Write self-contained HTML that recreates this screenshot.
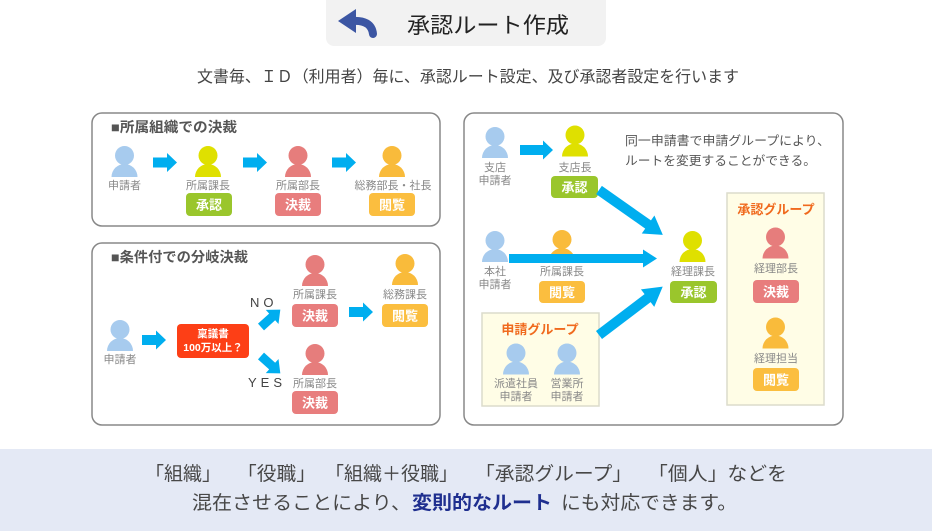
<!DOCTYPE html>
<html><head><meta charset="utf-8">
<style>
html,body{margin:0;padding:0;background:#fff;}
svg{display:block;}
text{font-family:"Liberation Sans","Noto Sans CJK JP",sans-serif;}
.lb{font-size:11px;fill:#888;text-anchor:middle;}
.bd{font-size:13px;fill:#fff;font-weight:bold;text-anchor:middle;}
.ttl{font-size:14px;fill:#555;font-weight:bold;}
.gt{font-size:13px;fill:#f06a1e;font-weight:bold;text-anchor:middle;}
</style></head>
<body>
<svg width="932" height="531" viewBox="0 0 932 531" xmlns="http://www.w3.org/2000/svg">
<defs>
<symbol id="p" viewBox="0 0 26 31">
<circle cx="13" cy="9.5" r="9.5"/>
<path d="M0,31 A13,13 0 0 1 26,31 Z"/>
</symbol>
</defs>

<!-- header -->
<rect x="326" y="-10" width="280" height="56" rx="8" fill="#f2f2f2"/>
<polygon points="338,21 356,9 356,33" fill="#3c56a3"/>
<path d="M352,21 C364,20 372,24 373,34" stroke="#3c56a3" stroke-width="8" stroke-linecap="round" fill="none"/>
<text x="407" y="33" font-size="22" fill="#222" textLength="162" lengthAdjust="spacingAndGlyphs">承認ルート作成</text>

<text x="197" y="82" font-size="16" fill="#444" textLength="542" lengthAdjust="spacingAndGlyphs">文書毎、ＩＤ（利用者）毎に、承認ルート設定、及び承認者設定を行います</text>

<!-- box 1 -->
<rect x="92" y="113" width="348" height="113" rx="10" fill="#fff" stroke="#888" stroke-width="1.5"/>
<text class="ttl" x="111" y="132" textLength="126" lengthAdjust="spacingAndGlyphs">■所属組織での決裁</text>
<use href="#p" x="111.5" y="146" width="26" height="31" fill="#a7cbee"/>
<use href="#p" x="195" y="146" width="26" height="31" fill="#dfe000"/>
<use href="#p" x="285" y="146" width="26" height="31" fill="#e67d7c"/>
<use href="#p" x="379" y="146" width="26" height="31" fill="#f9bb3b"/>
<text class="lb" x="124.5" y="189">申請者</text>
<text class="lb" x="208" y="189">所属課長</text>
<text class="lb" x="298" y="189">所属部長</text>
<text class="lb" x="393" y="189">総務部長・社長</text>
<g fill="#00aeef">
<polygon points="153,157.5 167,157.5 167,153 177,162.5 167,172 167,167.5 153,167.5"/>
<polygon points="243,157.5 257,157.5 257,153 267,162.5 257,172 257,167.5 243,167.5"/>
<polygon points="332,157.5 346,157.5 346,153 356,162.5 346,172 346,167.5 332,167.5"/>
</g>
<rect x="186" y="193" width="46" height="23" rx="4" fill="#9ac62c"/>
<text class="bd" x="209" y="209.5">承認</text>
<rect x="275" y="193" width="46" height="23" rx="4" fill="#e87d7d"/>
<text class="bd" x="298" y="209.5">決裁</text>
<rect x="369" y="193" width="46" height="23" rx="4" fill="#fbbe3f"/>
<text class="bd" x="392" y="209.5">閲覧</text>

<!-- box 2 -->
<rect x="92" y="243" width="348" height="182" rx="10" fill="#fff" stroke="#888" stroke-width="1.5"/>
<text class="ttl" x="111" y="262" textLength="137" lengthAdjust="spacingAndGlyphs">■条件付での分岐決裁</text>
<use href="#p" x="107" y="320" width="26" height="31" fill="#a7cbee"/>
<text class="lb" x="120" y="363">申請者</text>
<polygon points="142,335 156,335 156,330.5 166,340 156,349.5 156,345 142,345" fill="#00aeef"/>
<rect x="177" y="324" width="72" height="34" rx="4" fill="#fd3f16"/>
<text x="213" y="337" font-size="10.5" font-weight="bold" fill="#fff" text-anchor="middle">稟議書</text>
<text x="213" y="351" font-size="10.5" font-weight="bold" fill="#fff" text-anchor="middle">100万以上？</text>
<text x="250" y="307" font-size="13" fill="#444" letter-spacing="4">NO</text>
<text x="248" y="387" font-size="13" fill="#444" letter-spacing="4">YES</text>
<g fill="#00aeef">
<g transform="translate(261,327) rotate(-42)"><polygon points="0,-4.5 15,-4.5 15,-9.5 26,0 15,9.5 15,4.5 0,4.5"/></g>
<g transform="translate(261,356) rotate(42)"><polygon points="0,-4.5 15,-4.5 15,-9.5 26,0 15,9.5 15,4.5 0,4.5"/></g>
<polygon points="349,307 363,307 363,302.5 373,312 363,321.5 363,317 349,317"/>
</g>
<use href="#p" x="302" y="255" width="26" height="31" fill="#e67d7c"/>
<text class="lb" x="315" y="298">所属課長</text>
<rect x="292" y="304" width="46" height="23" rx="4" fill="#e87d7d"/>
<text class="bd" x="315" y="320.5">決裁</text>
<use href="#p" x="392" y="254" width="26" height="31" fill="#f9bb3b"/>
<text class="lb" x="405" y="298">総務課長</text>
<rect x="382" y="304" width="46" height="23" rx="4" fill="#fbbe3f"/>
<text class="bd" x="405" y="320.5">閲覧</text>
<use href="#p" x="302" y="344" width="26" height="31" fill="#e67d7c"/>
<text class="lb" x="315" y="387">所属部長</text>
<rect x="292" y="391" width="46" height="23" rx="4" fill="#e87d7d"/>
<text class="bd" x="315" y="407.5">決裁</text>

<!-- box 3 -->
<rect x="464" y="113" width="379" height="312" rx="10" fill="#fff" stroke="#888" stroke-width="1.5"/>
<text x="625" y="145" font-size="12.5" fill="#555" textLength="205" lengthAdjust="spacingAndGlyphs">同一申請書で申請グループにより、</text>
<text x="625" y="165" font-size="12.5" fill="#555" textLength="191" lengthAdjust="spacingAndGlyphs">ルートを変更することができる。</text>

<!-- groups -->
<rect x="727" y="193" width="97" height="212" fill="#fffde6" stroke="#dcdccc" stroke-width="1.5"/>
<text class="gt" x="776" y="214">承認グループ</text>
<rect x="482" y="313" width="117" height="93" fill="#fffde6" stroke="#dcdccc" stroke-width="1.5"/>
<text class="gt" x="540" y="334">申請グループ</text>

<use href="#p" x="482" y="127" width="26" height="31" fill="#a7cbee"/>
<text class="lb" x="495" y="171">支店</text>
<text class="lb" x="495" y="184">申請者</text>
<use href="#p" x="562" y="125" width="26" height="32" fill="#dfe000"/>
<text class="lb" x="575" y="171">支店長</text>
<rect x="551" y="176" width="47" height="22" rx="4" fill="#9ac62c"/>
<text class="bd" x="574.5" y="192">承認</text>

<use href="#p" x="482" y="231" width="26" height="31" fill="#a7cbee"/>
<text class="lb" x="495" y="275">本社</text>
<text class="lb" x="495" y="288">申請者</text>
<use href="#p" x="549" y="230" width="26" height="31" fill="#f9bb3b"/>
<text class="lb" x="562" y="275">所属課長</text>
<rect x="539" y="281" width="46" height="22" rx="4" fill="#fbbe3f"/>
<text class="bd" x="562" y="297">閲覧</text>

<use href="#p" x="679.5" y="230" width="26" height="33" fill="#dfe000"/>
<text class="lb" x="693" y="275">経理課長</text>
<rect x="670" y="281" width="47" height="22" rx="4" fill="#9ac62c"/>
<text class="bd" x="693.5" y="297">承認</text>

<use href="#p" x="503" y="343" width="26" height="32" fill="#a7cbee"/>
<use href="#p" x="554" y="343" width="26" height="32" fill="#a7cbee"/>
<text class="lb" x="516" y="387">派遣社員</text>
<text class="lb" x="516" y="400">申請者</text>
<text class="lb" x="567" y="387">営業所</text>
<text class="lb" x="567" y="400">申請者</text>

<use href="#p" x="762.5" y="227" width="26" height="32" fill="#e67d7c"/>
<text class="lb" x="776" y="272">経理部長</text>
<rect x="753" y="280" width="46" height="23" rx="4" fill="#e87d7d"/>
<text class="bd" x="776" y="296.5">決裁</text>
<use href="#p" x="762.5" y="317" width="26" height="32" fill="#f9bb3b"/>
<text class="lb" x="776" y="362">経理担当</text>
<rect x="753" y="368" width="46" height="23" rx="4" fill="#fbbe3f"/>
<text class="bd" x="776" y="384.5">閲覧</text>

<!-- box3 arrows -->
<g fill="#00aeef">
<polygon points="520,145 543,145 543,140.5 553,150 543,159.5 543,155 520,155"/>
<polygon points="509,254 643,254 643,249.5 657,258.5 643,267.5 643,263 509,263"/>
<g transform="translate(599,190) rotate(35.1)"><polygon points="0,-5 60,-5 60,-11 78,0 60,11 60,5 0,5"/></g>
<g transform="translate(599,335) rotate(-37.2)"><polygon points="0,-5 61,-5 61,-11 80,0 61,11 61,5 0,5"/></g>
</g>

<!-- bottom band -->
<rect x="0" y="449" width="932" height="82" fill="#e4e9f5"/>
<g font-size="19" fill="#474747">
<text x="145" y="480" textLength="76" lengthAdjust="spacingAndGlyphs">「組織」</text>
<text x="237" y="480" textLength="79" lengthAdjust="spacingAndGlyphs">「役職」</text>
<text x="325" y="480" textLength="133" lengthAdjust="spacingAndGlyphs">「組織＋役職」</text>
<text x="475" y="480" textLength="157" lengthAdjust="spacingAndGlyphs">「承認グループ」</text>
<text x="648" y="480" textLength="139" lengthAdjust="spacingAndGlyphs">「個人」などを</text>
<text x="192" y="509" textLength="219" lengthAdjust="spacingAndGlyphs">混在させることにより、</text>
<text x="412" y="509" textLength="140" lengthAdjust="spacingAndGlyphs" font-weight="bold" fill="#1f2f8f">変則的なルート</text>
<text x="561" y="509" textLength="176" lengthAdjust="spacingAndGlyphs">にも対応できます。</text>
</g>
</svg>
</body></html>
